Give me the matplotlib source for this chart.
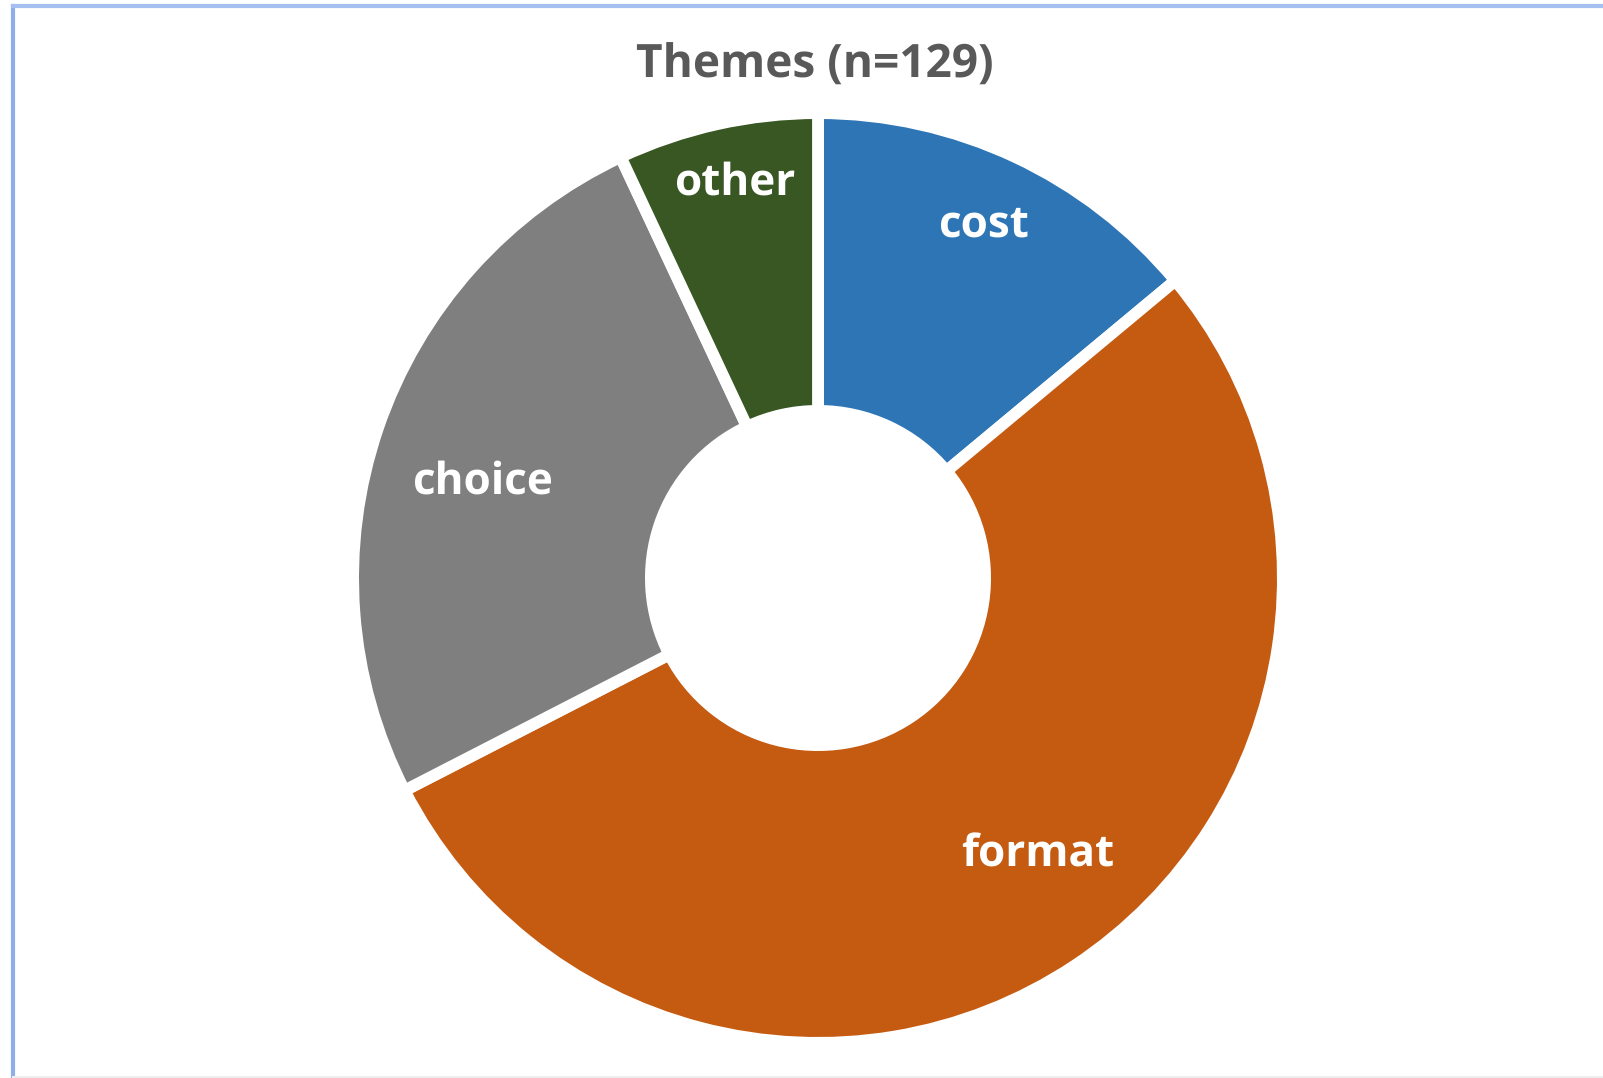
import matplotlib
matplotlib.use("Agg")
import matplotlib.pyplot as plt
from matplotlib.lines import Line2D
import numpy as np

plt.rcParams["text.hinting"] = "no_hinting"
plt.rcParams["text.hinting_factor"] = 1

categories = ["cost", "format", "choice", "other"]
values = [18, 69, 33, 9]
colors = ["#2E75B6", "#C55A11", "#7F7F7F", "#385723"]
title = "Themes (n=129)"

# layout
W, H = 1603, 1078
cx, cy = 818, 578          # centre in pixels from top-left
R = 459                    # visible outer radius in px
label_r = [0.85, 0.77, 0.76, 0.88]
label_da = [0.0, 5.0, 2.9, -0.7]

fig = plt.figure(figsize=(W / 100, H / 100), dpi=100)
ax = fig.add_axes([0, 0, 1, 1])

lw = 8.5
half = lw / 72 * 100 / 2 / R
inner = 173 / R
wedges, _ = ax.pie(values, colors=colors, startangle=90, counterclock=False,
                   radius=1 + half, wedgeprops=dict(width=1 + half - (inner - half),
                                                    edgecolor="white", linewidth=lw))
ax.set_xlim(-cx / R, (W - cx) / R)
ax.set_ylim(-(H - cy) / R, cy / R)
ax.set_aspect("equal")
ax.axis("off")

for w, lab, r, da in zip(wedges, categories, label_r, label_da):
    ang = np.deg2rad((w.theta1 + w.theta2) / 2 + da)
    ax.text(r * np.cos(ang), r * np.sin(ang), lab, ha="center", va="center",
            color="white", fontsize=31.5, fontweight="bold", family="Open Sans")

fig.text(815 / W, 1 - 66 / H, title, ha="center", va="center", color="#595959",
         fontsize=33, fontweight="bold", family="Open Sans")

# frame lines
fig.add_artist(Line2D([13 / W, 13 / W], [0, 1 - 6 / H], transform=fig.transFigure,
                      color="#8FAEE8", linewidth=3))
fig.add_artist(Line2D([13 / W, 1], [1 - 6 / H, 1 - 6 / H], transform=fig.transFigure,
                      color="#A4BFF0", linewidth=3))
fig.add_artist(Line2D([13 / W, 1], [1 / H, 1 / H], transform=fig.transFigure,
                      color="#EEEEEE", linewidth=1.5))

fig.savefig("out.png", dpi=100, facecolor="white")
